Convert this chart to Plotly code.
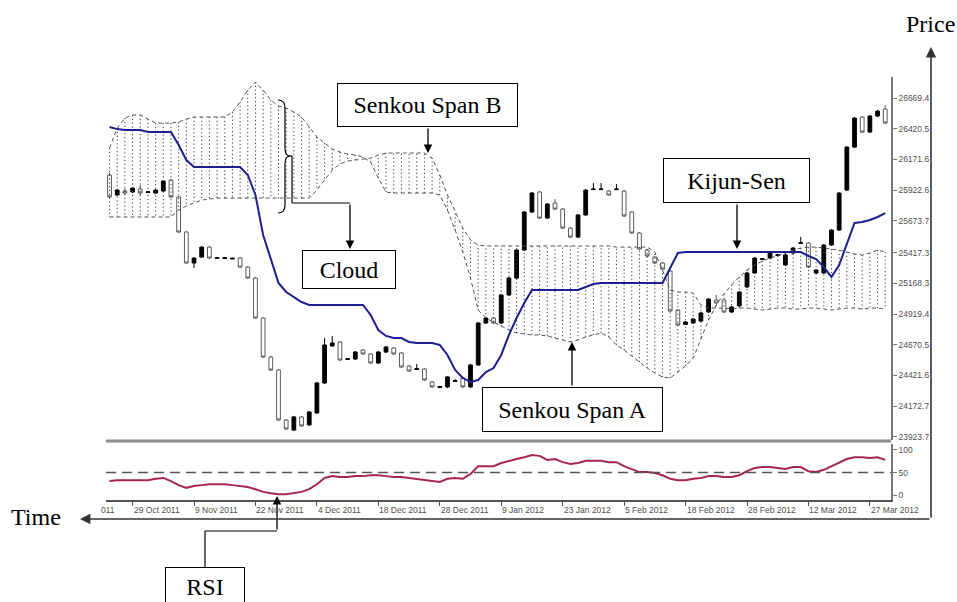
import plotly.graph_objects as go

# ---------------- data ----------------
bars = list(range(102))

open_ = [26046, 25884, 25916, 25908, 25932, 25904, 25900, 25916, 26005, 25868,
         25584, 25333, 25381, 25462, 25371, 25369, 25365, 25373, 25300, 25211,
         24887, 24571, 24466, 24061, 23980, 24086, 24021, 24118, 24361, 24661,
         24693, 24551, 24555, 24628, 24596, 24523, 24612, 24644, 24604, 24499,
         24470, 24474, 24369, 24325, 24329, 24373, 24401, 24329, 24507, 24847,
         24887, 24847, 25074, 25211, 25438, 25746, 25908, 25697, 25819, 25770,
         25616, 25543, 25722, 25928, 25928, 25916, 25928, 25916, 25746, 25576,
         25438, 25382, 25333, 25268, 24952, 24835, 24847, 24863, 24936, 25033,
         25033, 24936, 24985, 25139, 25252, 25361, 25373, 25394, 25317, 25414,
         25491, 25495, 25252, 25252, 25479, 25600, 25924, 26272, 26515, 26394,
         26524, 26580]
high = [26062, 25932, 25940, 25948, 25965, 25916, 25932, 26005, 26013, 25876,
        25592, 25381, 25471, 25471, 25381, 25381, 25377, 25381, 25309, 25219,
        24895, 24580, 24474, 24069, 24094, 24094, 24134, 24369, 24725, 24742,
        24701, 24563, 24620, 24636, 24604, 24620, 24661, 24653, 24612, 24507,
        24515, 24482, 24377, 24337, 24418, 24393, 24410, 24515, 24855, 24895,
        24895, 25082, 25219, 25446, 25754, 25908, 25916, 25819, 25851, 25778,
        25624, 25730, 25932, 25981, 25981, 25924, 25973, 25924, 25754, 25584,
        25446, 25390, 25341, 25276, 24960, 24863, 24887, 24936, 25049, 25074,
        25041, 24985, 25106, 25260, 25381, 25373, 25430, 25406, 25406, 25462,
        25544, 25503, 25284, 25487, 25608, 25908, 26281, 26515, 26524, 26532,
        26572, 26613]
low = [25851, 25876, 25884, 25900, 25876, 25900, 25892, 25908, 25859, 25576,
       25325, 25292, 25373, 25365, 25369, 25369, 25365, 25292, 25203, 24879,
       24563, 24458, 24053, 23980, 23972, 24005, 24013, 24110, 24353, 24653,
       24539, 24547, 24547, 24588, 24515, 24515, 24604, 24588, 24482, 24450,
       24466, 24377, 24320, 24320, 24320, 24369, 24320, 24320, 24499, 24839,
       24839, 24839, 25066, 25203, 25430, 25738, 25689, 25689, 25762, 25608,
       25535, 25535, 25714, 25924, 25924, 25876, 25924, 25706, 25568, 25438,
       25382, 25325, 25276, 24936, 24823, 24831, 24839, 24855, 24928, 25001,
       24928, 24928, 24977, 25130, 25244, 25357, 25365, 25390, 25309, 25406,
       25487, 25292, 25244, 25244, 25471, 25592, 25916, 26264, 26386, 26386,
       26515, 26459]
close = [25868, 25924, 25900, 25940, 25900, 25910, 25924, 25997, 25868, 25584,
         25333, 25373, 25462, 25373, 25377, 25375, 25371, 25300, 25211, 24887,
         24571, 24466, 24061, 23988, 24086, 24013, 24126, 24361, 24669, 24685,
         24547, 24557, 24612, 24596, 24523, 24612, 24653, 24596, 24491, 24458,
         24476, 24385, 24329, 24331, 24410, 24379, 24329, 24507, 24847, 24887,
         24847, 25074, 25211, 25438, 25746, 25900, 25697, 25811, 25770, 25616,
         25543, 25722, 25924, 25932, 25932, 25884, 25932, 25714, 25576, 25446,
         25390, 25333, 25284, 24944, 24831, 24855, 24879, 24928, 25041, 25009,
         24936, 24977, 25098, 25252, 25373, 25367, 25422, 25400, 25398, 25454,
         25497, 25300, 25276, 25479, 25600, 25900, 26272, 26507, 26394, 26524,
         26564, 26467]

kijun_sen = [26435, 26418, 26410, 26410, 26410, 26394, 26394, 26394, 26394, 26289,
             26167, 26110, 26110, 26110, 26110, 26110, 26110, 26110, 26046, 25884,
             25560, 25373, 25171, 25098, 25058, 25017, 24993, 24993, 24993, 24993,
             24993, 24993, 24993, 24993, 24912, 24790, 24742, 24725, 24725, 24693,
             24685, 24685, 24685, 24669, 24588, 24466, 24401, 24369, 24385, 24450,
             24482, 24588, 24750, 24887, 25009, 25114, 25114, 25114, 25114, 25114,
             25114, 25114, 25139, 25163, 25171, 25171, 25171, 25171, 25171, 25171,
             25171, 25171, 25171, 25292, 25414, 25422, 25422, 25422, 25422, 25422,
             25422, 25422, 25422, 25422, 25422, 25422, 25422, 25422, 25422, 25422,
             25422, 25390, 25365, 25300, 25220, 25317, 25495, 25657, 25665, 25681,
             25706, 25738]

senkou_span_a = [26264, 26426, 26507, 26532, 26532, 26499, 26467, 26467, 26467, 26475,
                 26499, 26516, 26516, 26516, 26516, 26516, 26556, 26637, 26734, 26799,
                 26734, 26653, 26605, 26588, 26556, 26516, 26435, 26354, 26305, 26256,
                 26232, 26216, 26208, 26192, 26151, 26021, 25908, 25900, 25900, 25900,
                 25900, 25900, 25900, 25884, 25762, 25600, 25422, 25211, 24952, 24887,
                 24855, 24823, 24790, 24766, 24758, 24750, 24750, 24742, 24725, 24709,
                 24693, 24709, 24734, 24750, 24766, 24734, 24669, 24628, 24580, 24531,
                 24482, 24442, 24409, 24401, 24450, 24499, 24563, 24725, 24871, 24993,
                 25082, 25155, 25220, 25276, 25317, 25349, 25373, 25390, 25414, 25438,
                 25454, 25462, 25462, 25454, 25446, 25438, 25422, 25406, 25398, 25414,
                 25438, 25422]

senkou_span_b = [25706, 25706, 25706, 25706, 25706, 25706, 25706, 25706, 25706, 25762,
                 25795, 25819, 25843, 25851, 25859, 25859, 25859, 25859, 25859, 25859,
                 25859, 25859, 25859, 25859, 25859, 25859, 25859, 25924, 26005, 26086,
                 26135, 26159, 26167, 26175, 26183, 26208, 26224, 26224, 26224, 26224,
                 26224, 26224, 26183, 26046, 25884, 25746, 25616, 25519, 25479, 25471,
                 25471, 25471, 25471, 25471, 25471, 25471, 25471, 25471, 25471, 25471,
                 25471, 25471, 25471, 25471, 25471, 25471, 25462, 25462, 25462, 25462,
                 25462, 25422, 25276, 25114, 25098, 25098, 25090, 24993, 24968, 24968,
                 24968, 24960, 24968, 24968, 24960, 24952, 24960, 24968, 24968, 24960,
                 24960, 24968, 24968, 24960, 24952, 24960, 24968, 24968, 24960, 24968,
                 24968, 24960]

rsi = [31, 33, 33, 33, 33, 33, 36, 38, 31, 22,
       16, 20, 22, 24, 24, 24, 22, 20, 18, 13,
       7, 4, 2, 2, 4, 7, 13, 24, 38, 42,
       40, 40, 42, 42, 44, 44, 42, 40, 40, 38,
       36, 33, 31, 29, 36, 38, 36, 47, 64, 64,
       64, 71, 76, 80, 84, 89, 87, 78, 80, 73,
       69, 71, 76, 76, 76, 73, 73, 64, 58, 51,
       51, 49, 44, 36, 33, 33, 36, 38, 42, 42,
       40, 40, 44, 53, 60, 62, 62, 60, 58, 62,
       62, 53, 51, 56, 64, 73, 80, 84, 84, 82,
       84, 78]

price_ticks = [23923.7, 24172.7, 24421.6, 24670.5, 24919.4, 25168.3,
               25417.3, 25673.7, 25922.6, 26171.6, 26420.5, 26669.4]
price_tick_labels = ["23923.7", "24172.7", "24421.6", "24670.5", "24919.4", "25168.3",
                     "25417.3", "25673.7", "25922.6", "26171.6", "26420.5", "26669.4"]
date_ticks = [3, 11, 19, 27, 35, 43, 51, 59, 67, 75, 83, 91, 99]
date_labels = ["29 Oct 2011", "9 Nov 2011", "22 Nov 2011", "4 Dec 2011", "18 Dec 2011",
               "28 Dec 2011", "9 Jan 2012", "23 Jan 2012", "5 Feb 2012", "18 Feb 2012",
               "28 Feb 2012", "12 Mar 2012", "27 Mar 2012"]
rsi_ticks = [0, 50, 100]

for arr in (open_, high, low, close, kijun_sen, senkou_span_a, senkou_span_b, rsi):
    assert len(arr) == len(bars), len(arr)

# ---------------- layout helpers (pixel -> paper) ----------------
W, H = 957, 602
PL, PR, PT, PB = 106, 891, 77, 500


def X(px):
    return (px - PL) / (PR - PL)


def Y(py):
    return (PB - py) / (PB - PT)


serif = "Liberation Serif, Times New Roman, serif"
small = dict(family="Liberation Sans, Arial, sans-serif", size=8.5, color="#505050")

fig = go.Figure()

# cloud hatching: dotted vertical line at every bar between the spans
cx, cy = [], []
for i, a, b in zip(bars, senkou_span_a, senkou_span_b):
    cx += [i, i, None]
    cy += [a, b, None]
fig.add_trace(go.Scatter(x=cx, y=cy, mode="lines", hoverinfo="skip",
                         line=dict(color="#3a3a3a", width=1, dash="1.2px,2.6px"),
                         showlegend=False))
fig.add_trace(go.Scatter(x=bars, y=senkou_span_a, mode="lines", name="Senkou Span A",
                         line=dict(color="#555555", width=1, dash="4px,3px"), showlegend=False))
fig.add_trace(go.Scatter(x=bars, y=senkou_span_b, mode="lines", name="Senkou Span B",
                         line=dict(color="#555555", width=1, dash="4px,3px"), showlegend=False))

fig.add_trace(go.Candlestick(
    x=bars, open=open_, high=high, low=low, close=close, name="Price",
    increasing=dict(line=dict(color="#000000", width=1), fillcolor="#000000"),
    decreasing=dict(line=dict(color="#5a5a5a", width=1), fillcolor="#ffffff"),
    whiskerwidth=0, showlegend=False))

fig.add_trace(go.Scatter(x=bars, y=kijun_sen, mode="lines", name="Kijun-Sen",
                         line=dict(color="#1e1e92", width=2), showlegend=False))

fig.add_trace(go.Scatter(x=bars, y=rsi, mode="lines", name="RSI", xaxis="x2", yaxis="y2",
                         line=dict(color="#a8264a", width=2), showlegend=False))

xr = [-0.46, 101.75]
fig.update_layout(
    width=W, height=H,
    margin=dict(l=PL, r=W - PR, t=PT, b=H - PB, pad=0),
    paper_bgcolor="white", plot_bgcolor="white",
    showlegend=False,
    xaxis=dict(domain=[0, 1], anchor="y", range=xr, showticklabels=False, showgrid=False,
               zeroline=False, showline=False, ticks="", rangeslider=dict(visible=False)),
    xaxis2=dict(domain=[0, 1], anchor="y2", range=xr, matches="x", showgrid=False,
                zeroline=False, showline=True, linecolor="#555555", linewidth=1.5,
                ticks="outside", ticklen=4, tickcolor="#555555", tickvals=date_ticks,
                showticklabels=False),
    yaxis=dict(domain=[Y(440), 1], anchor="x", side="right", range=[23899, 26840],
               tickvals=price_ticks, ticktext=price_tick_labels, ticks="outside", ticklen=4,
               tickcolor="#777777", showline=True, linecolor="#777777", linewidth=1.5,
               showgrid=False, zeroline=False, tickfont=small),
    yaxis2=dict(domain=[0, Y(444)], anchor="x2", side="right", range=[-11, 113.3],
                tickvals=rsi_ticks, ticks="outside", ticklen=4, tickcolor="#777777",
                showline=True, linecolor="#777777", linewidth=1.5, showgrid=False,
                zeroline=False, tickfont=small),
)

shapes = []
# RSI 50 level
shapes.append(dict(type="line", xref="paper", yref="y2", x0=0, x1=1, y0=50, y1=50,
                   line=dict(color="#555555", width=1.5, dash="10px,6px")))
# panel separator
shapes.append(dict(type="line", xref="paper", yref="paper", x0=0, x1=1, y0=Y(441), y1=Y(441),
                   line=dict(color="#8c8c8c", width=3)))


def seg(x0, y0, x1, y1, color="#000000", w=1.2):
    shapes.append(dict(type="line", xref="paper", yref="paper",
                       x0=X(x0), y0=Y(y0), x1=X(x1), y1=Y(y1),
                       line=dict(color=color, width=w)))


# brace for the cloud
pts = [("M", 278, 100), ("Q", 285, 100), ("", 285, 108), ("L", 285, 148), ("Q", 285, 156),
       ("", 290, 156), ("Q", 285, 156), ("", 285, 164), ("L", 285, 205), ("Q", 285, 213),
       ("", 278, 213)]
path = " ".join(f"{c} {X(x):.5f},{Y(y):.5f}" if c else f"{X(x):.5f},{Y(y):.5f}" for c, x, y in pts)
shapes.append(dict(type="path", xref="paper", yref="paper", path=path,
                   line=dict(color="#000000", width=1.2)))
# cloud connector
seg(289, 156, 292, 156)
seg(292, 156, 292, 203)
seg(292, 203, 350, 203)
# RSI connector
seg(205, 567, 205, 531)
seg(205, 531, 277, 531)

fig.update_layout(shapes=shapes)

ann = []


def arrow(hx, hy, tx, ty, color="#000000", w=1.3, size=1.3):
    ann.append(dict(x=X(hx), y=Y(hy), xref="paper", yref="paper", text="", showarrow=True,
                    ax=tx - hx, ay=ty - hy, arrowhead=2, arrowsize=size, arrowwidth=w,
                    arrowcolor=color, standoff=0, startstandoff=0))


def box(text, x0, y0, x1, y1):
    ann.append(dict(x=X((x0 + x1) / 2), y=Y((y0 + y1) / 2), xref="paper", yref="paper",
                    text=text, showarrow=False, xanchor="center", yanchor="middle",
                    width=x1 - x0 - 2, height=y1 - y0 - 2, align="center", valign="middle",
                    bordercolor="#000000", borderwidth=1, borderpad=0, bgcolor="white",
                    font=dict(family=serif, size=24, color="#000000")))


arrow(428, 153, 428, 127)   # Senkou Span B
arrow(350, 249, 350, 203)   # Cloud
arrow(737, 249, 737, 203)   # Kijun-Sen
arrow(572, 342, 572, 387)   # Senkou Span A
arrow(277, 496, 277, 531)   # RSI
arrow(80, 519, 931, 519, color="#333333", w=1.6)   # Time axis
arrow(931, 47, 931, 519, color="#333333", w=1.6)   # Price axis

box("Senkou Span B", 337, 83, 518, 127)
box("Cloud", 302, 250, 396, 289)
box("Kijun-Sen", 663, 158, 810, 203)
box("Senkou Span A", 482, 387, 663, 432)
box("RSI", 165, 567, 245, 607)

ann.append(dict(x=X(930), y=Y(24), xref="paper", yref="paper", text="Price", showarrow=False,
                xanchor="center", yanchor="middle", font=dict(family=serif, size=24, color="#000")))
ann.append(dict(x=X(36), y=Y(517), xref="paper", yref="paper", text="Time", showarrow=False,
                xanchor="center", yanchor="middle", font=dict(family=serif, size=24, color="#000")))

for t, lab in zip(date_ticks, date_labels):
    ann.append(dict(x=t, xref="x2", y=Y(510), yref="paper", text=lab, showarrow=False,
                    xanchor="left", yanchor="middle", xshift=-1, font=small))
ann.append(dict(x=X(117), xref="paper", y=Y(510), yref="paper", text="011", showarrow=False,
                xanchor="right", yanchor="middle", font=small))

fig.update_layout(annotations=ann)

fig.write_html("out.html", config={"displayModeBar": False})

# remove the browser's default page margin so the figure sits at the window origin
with open("out.html", encoding="utf-8") as f:
    page = f.read()
page = page.replace("<head>", "<head><style>html,body{margin:0;padding:0;overflow:hidden;}</style>", 1)
with open("out.html", "w", encoding="utf-8") as f:
    f.write(page)
